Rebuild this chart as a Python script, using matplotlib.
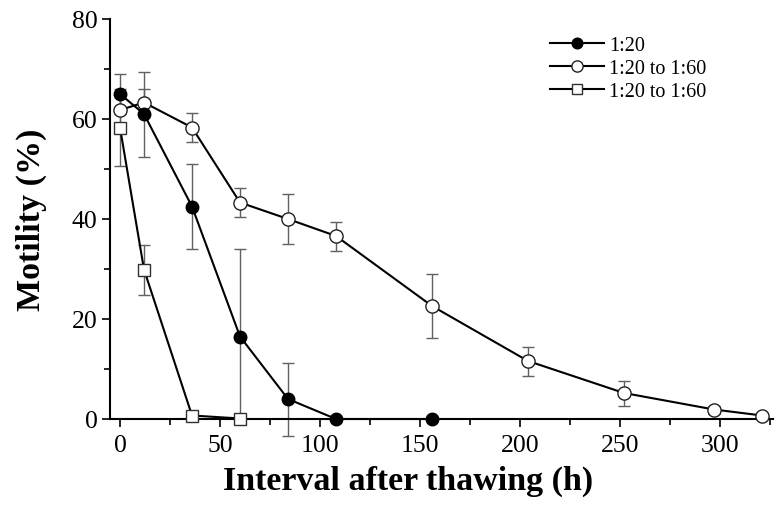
import matplotlib
matplotlib.use('Agg')
import matplotlib.pyplot as plt
from matplotlib.ticker import MultipleLocator

# motility vs hours after thawing
hours_a = [0, 12, 36, 60, 84, 108, 156]
motility_a = [65, 61, 42.5, 16.5, 4, 0, 0]
err_a = [4, 8.5, 8.5, 17.5, 7.3, 0, 0]

hours_b = [0, 12, 36, 60, 84, 108, 156, 204, 252, 297, 321]
motility_b = [61.8, 63.3, 58.3, 43.3, 40, 36.6, 22.6, 11.6, 5.2, 1.9, 0.7]
err_b = [3, 2.7, 2.9, 2.9, 5, 2.9, 6.4, 2.9, 2.5, 0.8, 0.5]

hours_c = [0, 12, 36, 60]
motility_c = [58.3, 29.9, 0.7, 0.1]
err_c = [7.7, 5, 0.7, 0]

labels = ['1:20', '1:20 to 1:60', '1:20 to 1:60']

plt.rcParams['font.family'] = ['Liberation Serif', 'DejaVu Serif']

fig = plt.figure(figsize=(7.75, 5.06), dpi=100)
ax = fig.add_axes([110 / 775, 1 - 420 / 506, 663 / 775, 400 / 506])

ebar = dict(ecolor='#606060', elinewidth=1.0, capsize=4, capthick=1.0, clip_on=False)

ax.errorbar(hours_a, motility_a, yerr=err_a, fmt='none', **ebar)
ax.errorbar(hours_b, motility_b, yerr=err_b, fmt='none', **ebar)
ax.errorbar(hours_c, motility_c, yerr=err_c, fmt='none', **ebar)

ax.plot(hours_c, motility_c, color='black', lw=1.5, marker='s', ms=8,
        mfc='white', mec='#303030', mew=1.0, label=labels[2], clip_on=False, zorder=3)
ax.plot(hours_b, motility_b, color='black', lw=1.5, marker='o', ms=9.5,
        mfc='white', mec='#202020', mew=1.0, label=labels[1], clip_on=False, zorder=4)
ax.plot(hours_a, motility_a, color='black', lw=1.5, marker='o', ms=9,
        mfc='black', mec='black', label=labels[0], clip_on=False, zorder=5)

ax.set_xlim(-5, 326.5)
ax.set_ylim(0, 80)
ax.xaxis.set_major_locator(MultipleLocator(50))
ax.xaxis.set_minor_locator(MultipleLocator(25))
ax.yaxis.set_major_locator(MultipleLocator(20))
ax.yaxis.set_minor_locator(MultipleLocator(10))
ax.tick_params(which='both', direction='out', width=1.2, labelsize=18.5)
ax.tick_params(which='major', length=6)
ax.tick_params(which='minor', length=4)
ax.tick_params(axis='x', pad=5)
ax.tick_params(axis='y', pad=3)

for side in ['top', 'right']:
    ax.spines[side].set_visible(False)
for side in ['left', 'bottom']:
    ax.spines[side].set_linewidth(1.5)

ax.set_xlabel('Interval after thawing (h)', fontsize=24.5, fontweight='bold')
ax.xaxis.set_label_coords(0.449, -0.115)
ax.set_ylabel('Motility (%)', fontsize=24.5, fontweight='bold', labelpad=18)

handles, labs = ax.get_legend_handles_labels()
order = [2, 1, 0]
ax.legend([handles[i] for i in order], [labs[i] for i in order],
          loc='upper right', bbox_to_anchor=(0.927, 1.003), frameon=False,
          fontsize=14.5, handlelength=2.7, handletextpad=0.25, labelspacing=0.2,
          markerscale=0.85)

fig.savefig('out.png', dpi=100)
